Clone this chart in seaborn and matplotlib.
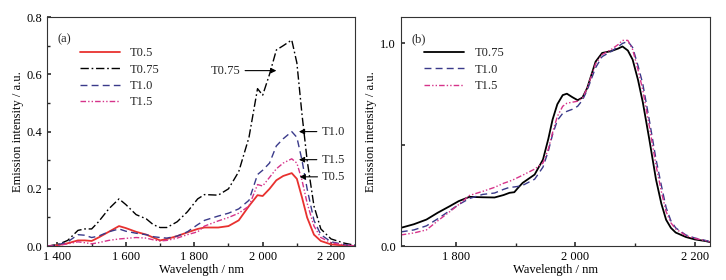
import pandas as pd
import seaborn as sns
import matplotlib.pyplot as plt
from matplotlib.ticker import MultipleLocator

# panel (a) absolute spectra
wl_a = [1370, 1400, 1430, 1460, 1480, 1500, 1520, 1550, 1580, 1600, 1630, 1660, 1680, 1700,
        1720, 1750, 1780, 1810, 1830, 1870, 1900, 1930, 1960, 1985, 2000, 2020, 2040, 2060,
        2085, 2100, 2115, 2130, 2150, 2170, 2200, 2240, 2270]
t075_a = [0.0, 0.005, 0.02, 0.055, 0.06, 0.06, 0.085, 0.13, 0.165, 0.145, 0.11, 0.095, 0.075, 0.065,
          0.065, 0.085, 0.12, 0.165, 0.18, 0.178, 0.2, 0.26, 0.38, 0.55, 0.527, 0.6, 0.685, 0.7,
          0.72, 0.64, 0.46, 0.3, 0.14, 0.06, 0.025, 0.01, 0.003]
t10_a = [0.0, 0.004, 0.015, 0.04, 0.038, 0.03, 0.035, 0.05, 0.06, 0.052, 0.045, 0.04, 0.033, 0.03,
         0.028, 0.035, 0.05, 0.075, 0.09, 0.105, 0.115, 0.13, 0.16, 0.25, 0.265, 0.29, 0.35, 0.375,
         0.4, 0.38, 0.3, 0.2, 0.09, 0.04, 0.015, 0.005, 0.002]
t15_a = [0.0, 0.002, 0.008, 0.015, 0.012, 0.008, 0.012, 0.02, 0.025, 0.027, 0.03, 0.028, 0.022, 0.018,
         0.02, 0.028, 0.04, 0.05, 0.07, 0.088, 0.1, 0.115, 0.14, 0.215, 0.21, 0.24, 0.27, 0.29,
         0.305, 0.29, 0.23, 0.15, 0.07, 0.03, 0.012, 0.004, 0.001]
t05_a = [0.0, 0.003, 0.01, 0.02, 0.02, 0.018, 0.03, 0.05, 0.07, 0.063, 0.05, 0.04, 0.03, 0.02,
         0.025, 0.035, 0.048, 0.06, 0.065, 0.065, 0.07, 0.09, 0.14, 0.178, 0.175, 0.2, 0.23, 0.245,
         0.255, 0.235, 0.17, 0.1, 0.04, 0.018, 0.006, 0.002, 0.0]

# panel (b) normalised spectra
wl_b = [1708, 1730, 1751, 1770, 1790, 1805, 1823, 1845, 1865, 1880, 1890, 1898, 1905, 1912,
        1932, 1946, 1955, 1962, 1970, 1979, 1986, 1995, 2004, 2012, 2020, 2034, 2045, 2060,
        2072, 2079, 2088, 2096, 2105, 2113, 2124, 2135, 2144, 2152, 2160, 2168, 2185, 2200,
        2218, 2225]
t075_b = [0.09, 0.108, 0.131, 0.165, 0.197, 0.222, 0.243, 0.241, 0.24, 0.252, 0.263, 0.266, 0.29, 0.312,
          0.353, 0.427, 0.53, 0.624, 0.7, 0.745, 0.752, 0.735, 0.72, 0.733, 0.78, 0.91, 0.953, 0.962,
          0.975, 0.985, 0.965, 0.92, 0.82, 0.71, 0.525, 0.33, 0.21, 0.13, 0.09, 0.067, 0.045, 0.033,
          0.025, 0.02]
t10_b = [0.07, 0.08, 0.1, 0.135, 0.175, 0.205, 0.235, 0.255, 0.262, 0.28, 0.29, 0.292, 0.295, 0.3,
         0.33, 0.39, 0.47, 0.55, 0.62, 0.655, 0.665, 0.675, 0.69, 0.72, 0.77, 0.88, 0.935, 0.96,
         0.985, 1.0, 1.01, 0.98, 0.89, 0.8, 0.62, 0.43, 0.3, 0.19, 0.125, 0.09, 0.055, 0.04,
         0.028, 0.022]
t15_b = [0.055, 0.065, 0.08, 0.125, 0.17, 0.205, 0.25, 0.27, 0.29, 0.31, 0.32, 0.33, 0.34, 0.35,
         0.38, 0.41, 0.48, 0.56, 0.64, 0.69, 0.705, 0.71, 0.715, 0.73, 0.78, 0.9, 0.945, 0.97,
         0.995, 1.015, 1.015, 0.97, 0.87, 0.77, 0.59, 0.4, 0.27, 0.17, 0.115, 0.085, 0.052, 0.038,
         0.027, 0.021]

RED = "#e8312f"
NAVY = "#3a3a8a"
MAG = "#d6338a"
DASHDOT = (0, (6, 2, 1.2, 2))
DASHED = (0, (5, 3))
DDOT = (0, (4, 1.5, 1, 1.5, 1, 1.5))


def style_axes(ax):
    ax.tick_params(direction="in", labelsize=9, length=3, bottom=True, left=True,
                   colors="#333333", labelcolor="black")
    ax.tick_params(which="minor", direction="in", length=2, bottom=True, left=True)
    ax.set_xlabel("Wavelength / nm", fontsize=9, labelpad=1, color="black")
    ax.set_ylabel("Emission intensity / a.u.", fontsize=9, labelpad=2, color="black")
    ax.xaxis.set_major_formatter(plt.FuncFormatter(
        lambda v, p: f"{int(v)}"[0] + " " + f"{int(v)}"[1:]))
    for sp in ax.spines.values():
        sp.set_linewidth(0.8)
        sp.set_color("#333333")


def main():
    sns.set_theme(style="white")
    plt.rcParams["font.family"] = ["Liberation Serif", "DejaVu Serif"]

    fig = plt.figure(figsize=(7.26, 2.8), dpi=100)
    ax1 = fig.add_axes([0.065, 0.121, 0.424, 0.818])
    ax2 = fig.add_axes([0.552, 0.121, 0.4256, 0.818])

    da = pd.DataFrame({"wl": wl_a, "T0.5": t05_a, "T0.75": t075_a, "T1.0": t10_a, "T1.5": t15_a})
    sns.lineplot(data=da, x="wl", y="T0.5", ax=ax1, color=RED, lw=1.3, label="T0.5")
    sns.lineplot(data=da, x="wl", y="T0.75", ax=ax1, color="black", lw=1.0, linestyle=DASHDOT, label="T0.75")
    sns.lineplot(data=da, x="wl", y="T1.0", ax=ax1, color=NAVY, lw=1.0, linestyle=DASHED, label="T1.0")
    sns.lineplot(data=da, x="wl", y="T1.5", ax=ax1, color=MAG, lw=1.0, linestyle=DDOT, label="T1.5")
    ax1.set_xlim(1370, 2270)
    ax1.set_ylim(0, 0.8)
    ax1.xaxis.set_major_locator(MultipleLocator(200))
    ax1.xaxis.set_minor_locator(MultipleLocator(100))
    ax1.yaxis.set_major_locator(MultipleLocator(0.2))
    ax1.yaxis.set_minor_locator(MultipleLocator(0.1))
    ax1.yaxis.set_major_formatter(plt.FuncFormatter(lambda v, p: f"{v:.1f}"))
    style_axes(ax1)
    ax1.text(0.035, 0.93, "(a)", transform=ax1.transAxes, fontsize=9, va="top")
    ax1.legend(loc="upper left", bbox_to_anchor=(0.09, 0.89), frameon=False, fontsize=9,
               handlelength=3.2, labelspacing=0.35, borderaxespad=0)

    arrows = [("T0.75", 2040, 0.613, 1935), ("T1.0", 2106, 0.40, 2172),
              ("T1.5", 2106, 0.302, 2172), ("T0.5", 2108, 0.242, 2174)]
    for lab, hx, hy, tx in arrows:
        ax1.annotate(lab, xy=(hx, hy), xytext=(tx, hy), fontsize=9, va="center",
                     ha="right" if tx < hx else "left",
                     arrowprops=dict(arrowstyle="-|>", color="black", lw=0.8,
                                     mutation_scale=8, shrinkA=1, shrinkB=0))

    db = pd.DataFrame({"wl": wl_b, "T0.75": t075_b, "T1.0": t10_b, "T1.5": t15_b})
    sns.lineplot(data=db, x="wl", y="T0.75", ax=ax2, color="black", lw=1.3, label="T0.75")
    sns.lineplot(data=db, x="wl", y="T1.0", ax=ax2, color=NAVY, lw=1.0, linestyle=DASHED, label="T1.0")
    sns.lineplot(data=db, x="wl", y="T1.5", ax=ax2, color=MAG, lw=1.0, linestyle=DDOT, label="T1.5")
    ax2.set_xlim(1708, 2225)
    ax2.set_ylim(0, 1.13)
    ax2.xaxis.set_major_locator(MultipleLocator(200))
    ax2.xaxis.set_minor_locator(MultipleLocator(100))
    ax2.set_yticks([0.0, 0.5, 1.0])
    ax2.set_yticklabels(["0.0", "", "1.0"])
    style_axes(ax2)
    ax2.text(0.035, 0.93, "(b)", transform=ax2.transAxes, fontsize=9, va="top")
    ax2.legend(loc="upper left", bbox_to_anchor=(0.06, 0.89), frameon=False, fontsize=9,
               handlelength=3.2, labelspacing=0.35, borderaxespad=0)

    fig.savefig("out.png", dpi=100)


if __name__ == "__main__":
    main()
